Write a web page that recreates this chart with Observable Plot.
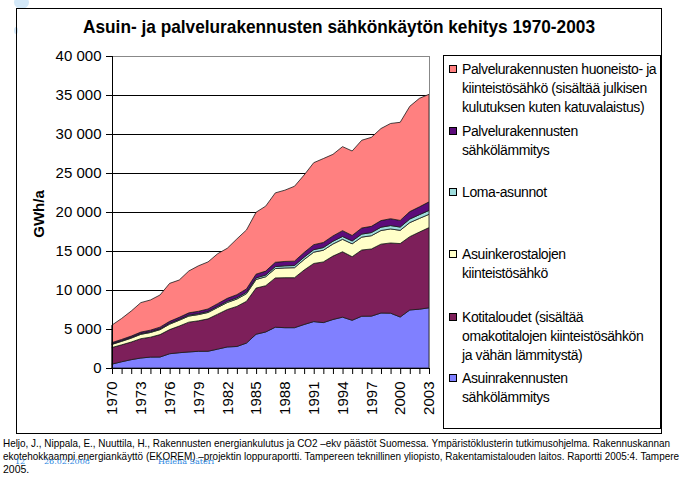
<!DOCTYPE html>
<html><head><meta charset="utf-8">
<script src="https://cdn.jsdelivr.net/npm/d3@7"></script>
<script src="https://cdn.jsdelivr.net/npm/@observablehq/plot@0.6"></script>
<style>
html,body{margin:0;padding:0;background:#fff;}
body{width:681px;height:494px;position:relative;overflow:hidden;font-family:"Liberation Sans",Arial,sans-serif;color:#000;}
.abs{position:absolute;white-space:nowrap;}
#box{left:16px;top:8px;width:646px;height:426px;border:1px solid #000;box-sizing:border-box;}
#title{top:16px;font-weight:bold;font-size:19px;line-height:22px;}
#ylab{left:38px;top:214px;font-weight:bold;font-size:15px;transform:translate(-50%,-50%) rotate(-90deg);}
#legend{left:443px;top:55px;width:218px;height:374px;border:1px solid #000;box-sizing:border-box;}
.sw{position:absolute;width:8px;height:8px;border:1px solid #000;box-sizing:border-box;}
.lt{position:absolute;font-size:14px;line-height:19px;letter-spacing:-0.4px;white-space:nowrap;}
.cap{position:absolute;left:3px;font-size:10.5px;line-height:13px;white-space:nowrap;}
.foot{position:absolute;font-family:"DejaVu Serif","Liberation Serif",serif;font-size:8px;line-height:9px;color:#2a86e0;white-space:nowrap;}
#plot{left:0;top:0;}
</style></head><body>
<div class="abs" style="left:14px;top:-4px;width:15px;height:13px;border-radius:50%;background:#d3e8f8;"></div>
<div class="abs" style="left:14px;top:27px;width:4px;height:7px;border-radius:50%;background:#d3e8f8;"></div>
<div id="box" class="abs"></div>
<div id="plot" class="abs"></div>
<div id="title" class="abs">Asuin- ja palvelurakennusten sähkönkäytön kehitys 1970-2003</div>
<div id="ylab" class="abs">GWh/a</div>
<div id="legend" class="abs"></div>
<div id="caption"></div>
<script>
// ---- data ----
const years = [1970,1971,1972,1973,1974,1975,1976,1977,1978,1979,1980,1981,1982,1983,1984,1985,1986,1987,1988,1989,1990,1991,1992,1993,1994,1995,1996,1997,1998,1999,2000,2001,2002,2003];
const labelYears = [1970,1973,1976,1979,1982,1985,1988,1991,1994,1997,2000,2003];
const yTicks = [0,5000,10000,15000,20000,25000,30000,35000,40000];

// series values (GWh/a), stacked bottom -> top
const asuinrakennustenSahkolammitys = [500,800,1070,1280,1400,1410,1830,1960,2060,2140,2150,2420,2700,2760,3200,4330,4620,5230,5170,5170,5580,5950,5820,6220,6520,6120,6640,6650,7050,7030,6540,7440,7540,7720];
const kotitaloudet = [2130,2170,2260,2480,2550,2870,3090,3420,3820,3910,4150,4480,4800,5140,5350,5920,5930,6320,6410,6410,6980,7450,7780,8130,8380,8150,8490,8610,8830,9000,9410,9400,9890,10280];
const asuinkerostalojenKiinteistosahko = [400,450,500,560,600,640,700,740,780,800,820,860,900,940,980,1100,1150,1200,1250,1280,1350,1450,1500,1550,1600,1650,1650,1700,1750,1800,1700,1800,1750,1700];
const lomaAsunnot = [80,80,90,90,100,100,110,110,120,120,130,140,150,160,180,200,220,250,270,280,300,320,340,350,360,370,390,400,420,430,420,460,480,500];
const palvelurakennustenSahkolammitys = [150,160,170,190,200,220,250,270,290,300,320,350,380,400,430,480,500,550,560,560,600,640,650,680,750,700,780,800,850,880,850,950,1000,1100];
const palvelurakennustenHuoneisto = [2240,2690,3210,3780,3870,4120,4870,4780,5370,5830,6030,6400,6420,7150,7560,7940,8330,8900,9140,9600,9930,10510,10760,10460,10770,10830,11250,11410,11800,12210,12580,13500,13910,13790];

const seriesKeys = ["Asuinrakennusten sähkölämmitys","Kotitaloudet","Asuinkerostalojen kiinteistösähkö","Loma-asunnot","Palvelurakennusten sähkölämmitys","Palvelurakennusten huoneisto- ja kiinteistösähkö"];
const seriesValues = [asuinrakennustenSahkolammitys,kotitaloudet,asuinkerostalojenKiinteistosahko,lomaAsunnot,palvelurakennustenSahkolammitys,palvelurakennustenHuoneisto];
const seriesColors = ["#8080ff","#7d1f5a","#ffffc8","#9edcdc","#5c0b7a","#ff8080"];

// legend (top -> bottom)
const legendKeys = [5,4,3,2,1,0];
const legendLines = [
  ["Palvelurakennusten huoneisto- ja","kiinteistösähkö (sisältää julkisen","kulutuksen kuten katuvalaistus)"],
  ["Palvelurakennusten","sähkölämmitys"],
  ["Loma-asunnot"],
  ["Asuinkerostalojen","kiinteistösähkö"],
  ["Kotitaloudet (sisältää","omakotitalojen kiinteistösähkön","ja vähän lämmitystä)"],
  ["Asuinrakennusten","sähkölämmitys"]
];
const captionLines = [
  "Heljo, J., Nippala, E., Nuuttila, H., Rakennusten energiankulutus ja CO2 –ekv  päästöt Suomessa. Ympäristöklusterin tutkimusohjelma. Rakennuskannan",
  "ekotehokkaampi energiankäyttö (EKOREM) –projektin loppuraportti. Tampereen teknillinen yliopisto, Rakentamistalouden laitos. Raportti 2005:4. Tampere",
  "2005."
];
const footerTexts = ["12","26.02.2008","Helena Säteri"];

// ---- chart ----
const rows = [];
seriesValues.forEach((vals, si) => vals.forEach((v, i) => rows.push({year: years[i], series: seriesKeys[si], value: v})));
const fmt = d => d3.format(",")(d).replace(/,/g, " ");

const chart = Plot.plot({
  width: 440, height: 430,
  marginLeft: 112, marginRight: 11, marginTop: 56, marginBottom: 62,
  style: {fontFamily: "'Liberation Sans', Arial, sans-serif", fontSize: "15px", color: "#000", background: "transparent", overflow: "visible"},
  x: {domain: [1970, 2003]},
  y: {domain: [0, 40000]},
  color: {domain: seriesKeys, range: seriesColors},
  marks: [
    Plot.ruleY(yTicks.filter(d => d > 0 && d < 40000), {stroke: "#000", strokeWidth: 1}),
    Plot.areaY(rows, {x: "year", y: "value", z: "series", fill: "series", order: seriesKeys, stroke: "#1a1a1a", strokeWidth: 0.8, strokeLinejoin: "round"}),
    Plot.ruleY([40000], {stroke: "#888"}),
    Plot.ruleX([2003], {stroke: "#888"}),
    Plot.ruleX([1970], {stroke: "#000"}),
    Plot.ruleY([0], {stroke: "#000"}),
    Plot.axisY({ticks: yTicks, tickFormat: fmt, tickSize: 6, tickPadding: 5, label: null, fontSize: 15}),
    Plot.axisX({ticks: years, tickFormat: d => labelYears.includes(d) ? String(d) : "", tickRotate: -90, tickSize: 6, tickPadding: 7, label: null, fontSize: 15})
  ]
});
document.getElementById("plot").appendChild(chart);

// ---- legend ----
const leg = document.getElementById("legend");
const itemTops = [69,131,192,254,317,378];
legendKeys.forEach((si, k) => {
  const sw = document.createElement("div");
  sw.className = "sw";
  sw.style.background = seriesColors[si];
  sw.style.left = (449 - 443 - 1) + "px";
  sw.style.top = (itemTops[k] - 4 - 55 - 1) + "px";
  leg.appendChild(sw);
  legendLines[k].forEach((line, j) => {
    const t = document.createElement("div");
    t.className = "lt";
    t.textContent = line;
    t.style.left = (462 - 443 - 1) + "px";
    t.style.top = (itemTops[k] - 9 + j * 19 - 55 - 1) + "px";
    leg.appendChild(t);
  });
});

// ---- title fit ----
const title = document.getElementById("title");
const tw = title.getBoundingClientRect().width;
const tTarget = 512;
title.style.transformOrigin = "left top";
title.style.transform = `scaleX(${tTarget / tw})`;
title.style.left = (339 - tTarget / 2) + "px";

// ---- caption ----
const capTops = [437, 450, 463];
const capWidths = [667, 676, null];
captionLines.forEach((line, i) => {
  const d = document.createElement("div");
  d.className = "cap";
  d.textContent = line;
  d.style.top = capTops[i] + "px";
  document.body.appendChild(d);
  if (capWidths[i]) {
    const w = d.getBoundingClientRect().width;
    d.style.transformOrigin = "left top";
    d.style.transform = `scaleX(${capWidths[i] / w})`;
  }
});
const footX = [15, 44, 158];
footerTexts.forEach((t, i) => {
  const d = document.createElement("div");
  d.className = "foot";
  d.textContent = t;
  d.style.left = footX[i] + "px";
  d.style.top = "457px";
  document.body.appendChild(d);
});
</script>
</body></html>
